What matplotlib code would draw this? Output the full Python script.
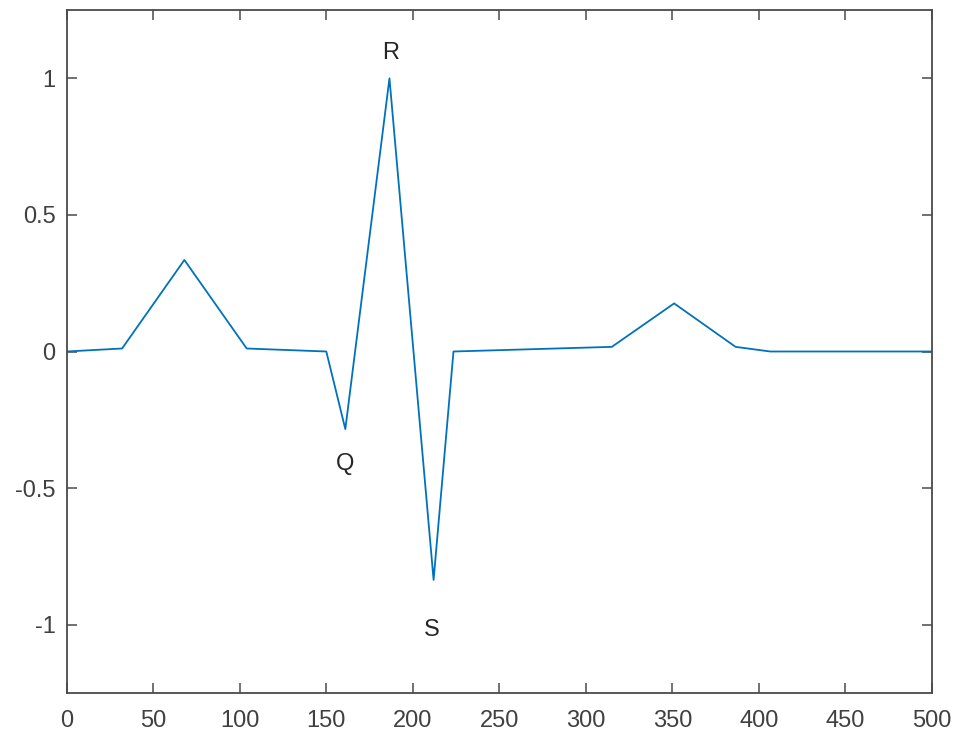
import matplotlib.pyplot as plt

# ECG waveform points
t = [0, 32, 68, 104, 150, 161, 186.5, 212, 223.5, 315, 351, 386.5, 406.5, 500]
v = [0, 0.011, 0.335, 0.011, 0, -0.284, 1.0, -0.836, 0, 0.017, 0.176, 0.017, 0, 0]

# wave labels
labels = ['R', 'Q', 'S']
label_x = [187, 161, 211]
label_y = [1.093, -0.41, -1.02]

xticks = [0, 50, 100, 150, 200, 250, 300, 350, 400, 450, 500]
yticks = [-1, -0.5, 0, 0.5, 1]


def main():
    plt.rcParams['font.family'] = ['Liberation Sans', 'DejaVu Sans']
    fig = plt.figure(figsize=(9.58, 7.34), dpi=100)
    ax = fig.add_axes([66.7 / 958, 1 - 693 / 734, (932 - 66.7) / 958, (693 - 10) / 734])

    ax.plot(t, v, color='#0072BD', linewidth=1.3)
    for s, x, y in zip(labels, label_x, label_y):
        ax.text(x, y, s, ha='center', va='center', fontsize=17, color='#262626')

    ax.set_xlim(0, 500)
    ax.set_ylim(-1.25, 1.25)
    ax.set_xticks(xticks)
    ax.set_yticks(yticks)
    ax.set_xticklabels([str(x) for x in xticks])
    ax.set_yticklabels(['-1', '-0.5', '0', '0.5', '1'])

    grey = '#4a4a4a'
    for sp in ax.spines.values():
        sp.set_color(grey)
        sp.set_linewidth(1.3)
    ax.tick_params(direction='in', length=7, width=1.1, color=grey,
                   labelcolor='#404040', labelsize=17, top=True, right=True)
    ax.tick_params(axis='x', pad=12)
    ax.tick_params(axis='y', pad=8)

    fig.savefig('out.png', dpi=100)


if __name__ == '__main__':
    main()
